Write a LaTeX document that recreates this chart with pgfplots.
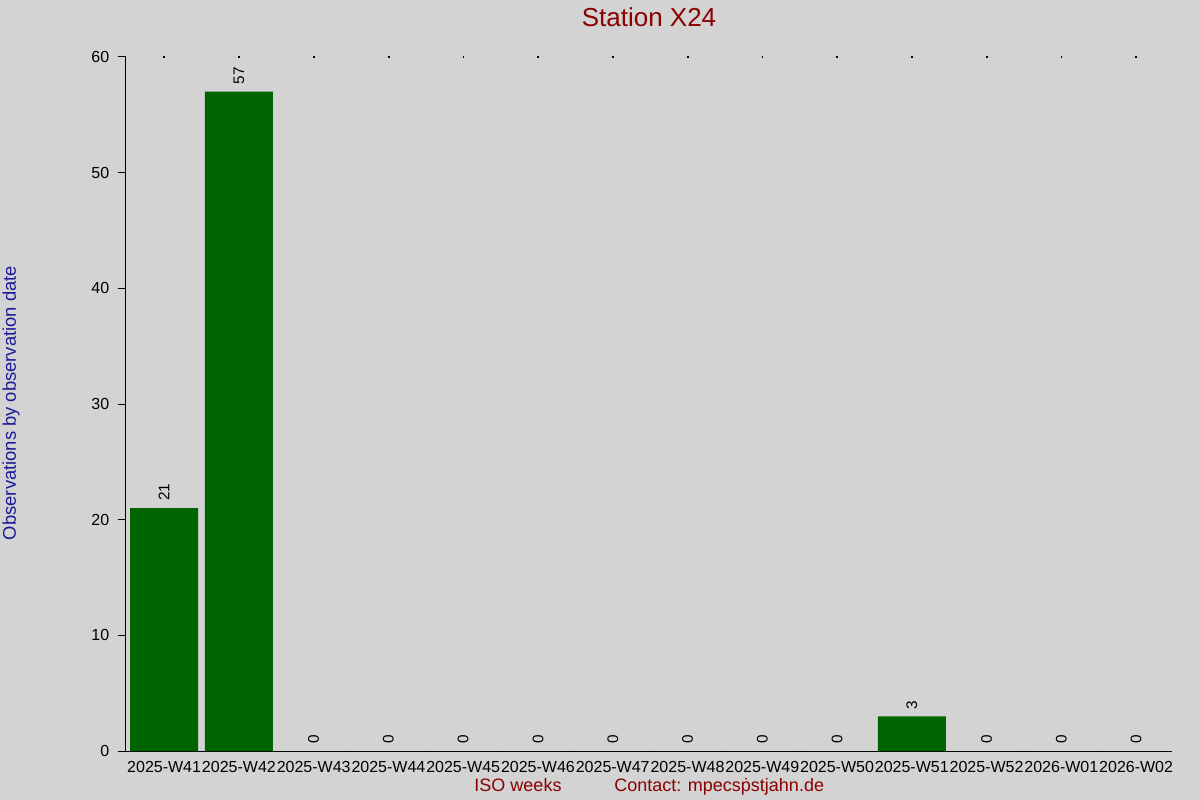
\documentclass[border=0pt]{standalone}
\usepackage{pgfplots}
\pgfplotsset{compat=1.18}
\usepackage{fontspec}
\setmainfont{Liberation Sans}

\definecolor{bg}{HTML}{D3D3D3}
\definecolor{bargreen}{HTML}{006400}
\definecolor{darkred}{HTML}{8B0000}
\definecolor{ylabblue}{HTML}{1A1A96}

\begin{document}
\begin{tikzpicture}
% background, 1200 x 800 px (1px = 0.75pt)
\fill[bg] (-94.5pt,-36.75pt) rectangle (805.5pt,563.25pt);
\begin{axis}[
    scale only axis,
    width=784.5pt, height=520.5pt,
    xmin=-0.51, xmax=13.48,
    ymin=0, ymax=60,
    enlargelimits=false,
    clip=false,
    axis x line=bottom,
    axis y line=left,
    axis line style={-, black, line width=0.75pt},
    tick align=outside,
    xtick=data,
    xticklabels={2025-W41,2025-W42,2025-W43,2025-W44,2025-W45,2025-W46,2025-W47,2025-W48,2025-W49,2025-W50,2025-W51,2025-W52,2026-W01,2026-W02},
    x tick style={draw=none},
    ytick={0,10,...,60},
    y tick style={black, line width=0.75pt},
    major tick length=6pt,
    /pgf/number format/assume math mode=true,
    ticklabel style={font=\fontsize{12}{14}\selectfont, text=black},
    xticklabel style={yshift=2pt},
    yticklabel style={xshift=-3pt},
  ]
  \addplot[ybar, bar width=0.91, fill=bargreen, draw=none,
    nodes near coords,
    nodes near coords style={rotate=90, anchor=west, inner xsep=5.25pt,
      font=\fontsize{11.5}{13}\selectfont, text=black}]
    coordinates {(0,21) (1,57) (2,0) (3,0) (4,0) (5,0) (6,0) (7,0) (8,0) (9,0) (10,3) (11,0) (12,0) (13,0)};
  % tiny tick dots along the top
  \addplot[only marks, mark=square*, mark size=0.3pt, black]
    coordinates {(0,60) (1,60) (2,60) (3,60) (4,60) (5,60) (6,60) (7,60) (8,60) (9,60) (10,60) (11,60) (12,60) (13,60)};
\end{axis}
\node[anchor=base, text=darkred, font=\fontsize{19.5}{22}\selectfont]
  at (392.25pt,543pt) {Station X24};
\node[anchor=base, text=darkred, font=\fontsize{13.5}{16}\selectfont]
  at (294pt,-30pt) {ISO weeks};
\node[anchor=base west, inner sep=0pt, text=darkred, font=\fontsize{13.5}{16}\selectfont]
  at (366pt,-30pt) {Contact: mpecsṗstjahn.de};
\node[anchor=base, rotate=90, text=ylabblue, font=\fontsize{13.8}{16}\selectfont]
  at (-82.5pt,261pt) {Observations by observation date};
\pgfresetboundingbox
\path (-94.5pt,-36.75pt) rectangle (805.5pt,563.25pt);
\end{tikzpicture}
\end{document}
